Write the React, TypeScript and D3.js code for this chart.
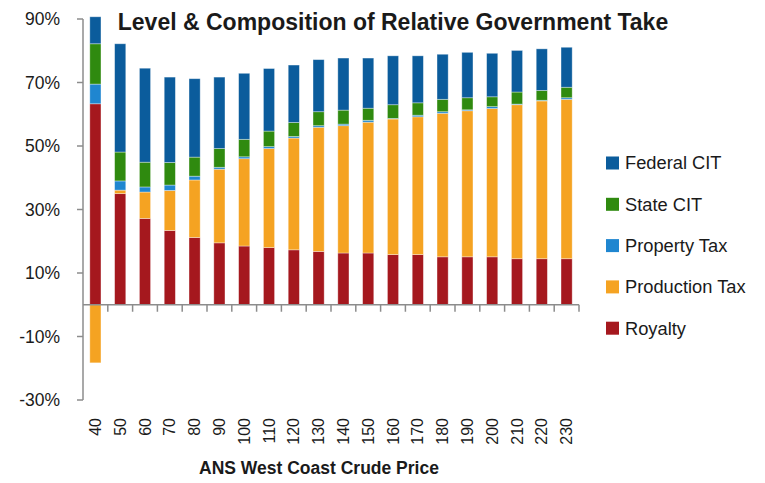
import * as d3 from "d3";

const prices = [40, 50, 60, 70, 80, 90, 100, 110, 120, 130, 140, 150, 160, 170, 180, 190, 200, 210, 220, 230];
const royalty = [63.3, 35.0, 27.2, 23.4, 21.2, 19.5, 18.5, 18.0, 17.3, 16.8, 16.3, 16.3, 15.8, 15.8, 15.1, 15.1, 15.1, 14.5, 14.5, 14.5];
const production = [-18.3, 1.1, 8.3, 12.6, 18.1, 23.2, 27.5, 31.2, 35.2, 39.1, 40.1, 41.2, 42.7, 43.4, 45.2, 46.0, 46.7, 48.5, 49.7, 50.2];
const property = [6.2, 2.9, 1.6, 1.7, 1.2, 0.6, 0.6, 0.6, 0.5, 0.5, 0.5, 0.6, 0.2, 0.5, 0.5, 0.3, 0.6, 0.2, 0.2, 0.5];
const stateCit = [12.7, 9.1, 7.8, 7.1, 6.0, 5.9, 5.5, 4.9, 4.4, 4.4, 4.4, 3.8, 4.3, 3.9, 3.9, 3.8, 3.1, 3.8, 3.1, 3.3];
const federalCit = [8.5, 34.1, 29.6, 26.9, 24.7, 22.5, 20.8, 19.7, 18.1, 16.4, 16.4, 15.8, 15.4, 14.8, 14.2, 14.3, 13.7, 13.1, 13.1, 12.6];
const yTicks = [-30, -10, 10, 30, 50, 70, 90];

const seriesKeys = ["Royalty", "Production Tax", "Property Tax", "State CIT", "Federal CIT"];
const seriesValues: Record<string, number[]> = {
  Royalty: royalty,
  "Production Tax": production,
  "Property Tax": property,
  "State CIT": stateCit,
  "Federal CIT": federalCit,
};
const colors: Record<string, string> = {
  Royalty: "#a5181e",
  "Production Tax": "#f5a322",
  "Property Tax": "#1f86d0",
  "State CIT": "#2f8a0f",
  "Federal CIT": "#0b5c9c",
};

const W = 765;
const H = 483;
const left = 83;
const right = 579;
const top = 19;
const bottom = 400;
const font = "'Liberation Sans', Arial, sans-serif";
const axisColor = "#8c8c8c";

export default function App() {
  const rows = prices.map((p, i) => {
    const r: Record<string, number> = { price: p };
    seriesKeys.forEach((k) => (r[k] = seriesValues[k][i]));
    return r;
  });
  const stacked = d3.stack<Record<string, number>>().keys(seriesKeys).offset(d3.stackOffsetDiverging)(rows);

  const x = d3.scaleBand<number>().domain(prices).range([left, right]).paddingInner(0.55).paddingOuter(0.275);
  const band = d3.scaleBand<number>().domain(prices).range([left, right]);
  const y = d3.scaleLinear().domain([-30, 90]).range([bottom, top]);
  const y0 = y(0);

  const legendItems = [...seriesKeys].reverse();

  return (
    <svg width={W} height={H} style={{ position: "absolute", left: 0, top: 0, background: "#fff" }}>
      <text x={393} y={30} textAnchor="middle" fontFamily="'Liberation Sans Narrow', 'Liberation Sans', sans-serif" fontWeight="bold" fontSize={23} fill="#1a1a1a">
        Level &amp; Composition of Relative Government Take
      </text>

      {stacked.map((s) => (
        <g key={s.key} fill={colors[s.key]}>
          {s.map((d, i) => (
            <rect
              key={i}
              x={x(prices[i])}
              width={x.bandwidth()}
              y={y(Math.max(d[0], d[1]))}
              height={Math.abs(y(d[0]) - y(d[1]))}
              stroke="#ffffff"
              strokeOpacity={0.45}
              strokeWidth={0.8}
            />
          ))}
        </g>
      ))}

      {/* y axis */}
      <line x1={left} x2={left} y1={top} y2={bottom} stroke={axisColor} strokeWidth={1.5} />
      {yTicks.map((t) => (
        <g key={t}>
          <line x1={left - 6} x2={left} y1={y(t)} y2={y(t)} stroke={axisColor} strokeWidth={1.5} />
          <text x={60} y={y(t)} dy="0.35em" textAnchor="end" fontFamily={font} fontSize={17.5} fill="#1a1a1a">
            {t}%
          </text>
        </g>
      ))}

      {/* x axis at zero */}
      <line x1={left} x2={right} y1={y0} y2={y0} stroke={axisColor} strokeWidth={1.5} />
      {prices.map((p) => (
        <line key={p} x1={(band(p) ?? 0) + band.bandwidth()} x2={(band(p) ?? 0) + band.bandwidth()} y1={y0} y2={y0 + 7} stroke={axisColor} strokeWidth={1.5} />
      ))}
      {prices.map((p) => {
        const cx = (x(p) ?? 0) + x.bandwidth() / 2;
        return (
          <text key={p} transform={`translate(${cx},${418}) rotate(-90)`} dy="0.35em" textAnchor="end" fontFamily={font} fontSize={16} fill="#1a1a1a">
            {p}
          </text>
        );
      })}

      <text x={319} y={474} textAnchor="middle" fontFamily={font} fontWeight="bold" fontSize={17.5} fill="#1a1a1a">
        ANS West Coast Crude Price
      </text>

      {legendItems.map((k, i) => {
        const cy = 163 + i * 41.3;
        return (
          <g key={k}>
            <rect x={606} y={cy - 6.5} width={13} height={13} fill={colors[k]} />
            <text x={625} y={cy} dy="0.35em" fontFamily={font} fontSize={18.3} fill="#1a1a1a">
              {k}
            </text>
          </g>
        );
      })}
    </svg>
  );
}
